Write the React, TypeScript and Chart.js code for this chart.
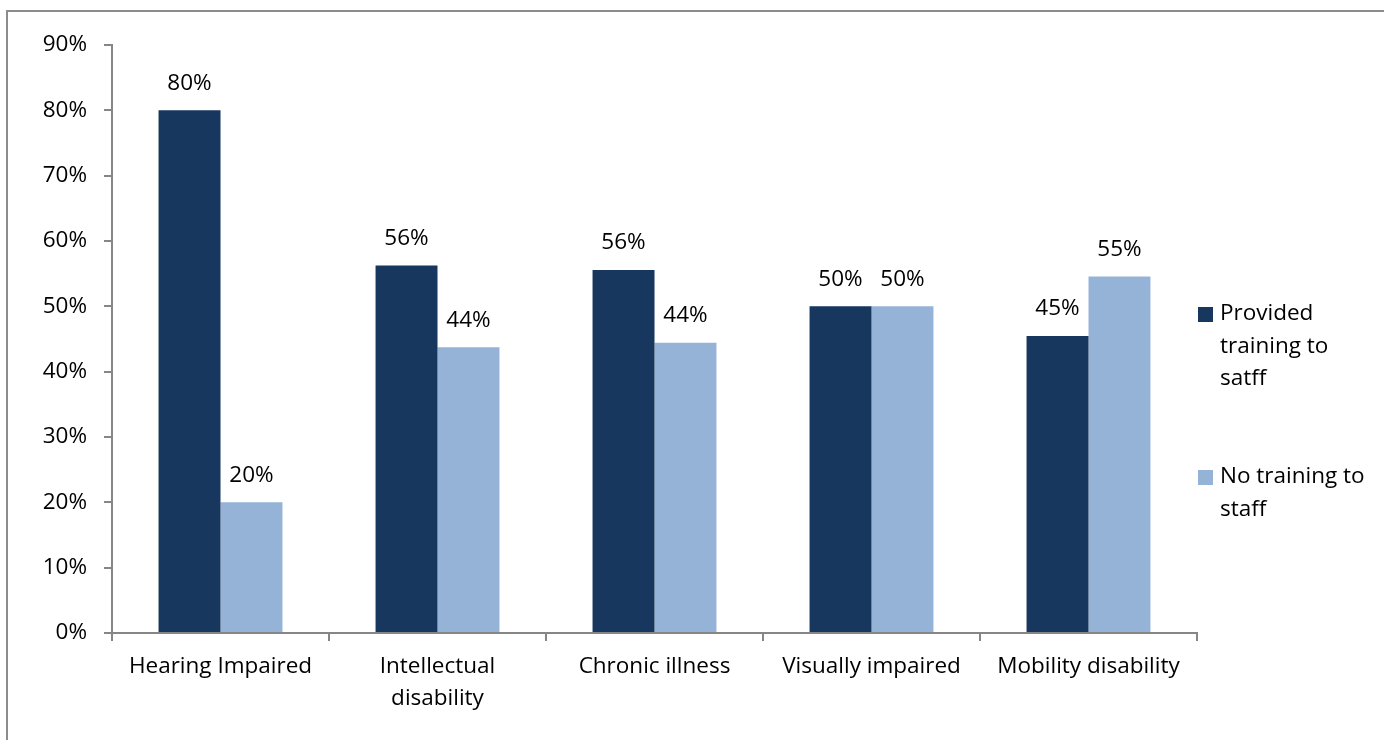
import React, { useEffect, useRef } from "react";
import { Chart, registerables } from "chart.js";
Chart.register(...registerables);

const categories: (string | string[])[] = [
  "Hearing Impaired",
  ["Intellectual", "disability"],
  "Chronic illness",
  "Visually impaired",
  "Mobility disability",
];
const providedTraining = [0.8, 0.5625, 0.5556, 0.5, 0.4545];
const noTraining = [0.2, 0.4375, 0.4444, 0.5, 0.5455];
const seriesNames = ["Provided training to satff", "No training to staff"];
const legendLines = [["Provided", "training to", "satff"], ["No training to", "staff"]];
const yTicks = [0, 0.1, 0.2, 0.3, 0.4, 0.5, 0.6, 0.7, 0.8, 0.9];

const DARK = "#17375E";
const LIGHT = "#95B3D7";
const AXIS = "#868686";
const FONT = "'Open Sans', 'Noto Sans', sans-serif";
const FS = 22.5;

export default function App() {
  const ref = useRef<HTMLCanvasElement>(null);
  useEffect(() => {
    const canvas = ref.current!;
    const colors = [DARK, LIGHT];
    const framePlugin = {
      id: "frame",
      beforeDraw(chart: any) {
        const ctx = chart.ctx;
        ctx.save();
        ctx.fillStyle = "#ffffff";
        ctx.fillRect(0, 0, chart.width, chart.height);
        ctx.strokeStyle = "#8c8c8c";
        ctx.lineWidth = 2;
        ctx.strokeRect(7, 11, chart.width + 20, chart.height + 20);
        ctx.restore();
      },
    };
    const labelPlugin = {
      id: "valueLabels",
      afterDatasetsDraw(chart: any) {
        const ctx = chart.ctx;
        ctx.save();
        ctx.font = `${FS}px ${FONT}`;
        ctx.fillStyle = "#000";
        ctx.textAlign = "center";
        ctx.textBaseline = "middle";
        chart.data.datasets.forEach((ds: any, i: number) => {
          const meta = chart.getDatasetMeta(i);
          meta.data.forEach((bar: any, j: number) => {
            const v = ds.data[j];
            ctx.fillText(Math.round(v * 100) + "%", bar.x, bar.y - 27);
          });
        });
        ctx.restore();
      },
    };
    const legendPlugin = {
      id: "customLegend",
      afterDraw(chart: any) {
        const ctx = chart.ctx;
        ctx.save();
        ctx.font = `${FS}px ${FONT}`;
        ctx.textAlign = "left";
        ctx.textBaseline = "middle";
        const starts = [314, 477];
        legendLines.forEach((lines, i) => {
          ctx.fillStyle = colors[i];
          ctx.fillRect(1198, starts[i] - 7, 15, 15);
          ctx.fillStyle = "#000";
          lines.forEach((t, k) => {
            ctx.fillText(t, 1220, starts[i] + k * 32.5);
          });
        });
        ctx.restore();
      },
    };
    const chart = new Chart(canvas, {
      type: "bar",
      data: {
        labels: categories,
        datasets: [
          { label: seriesNames[0], data: providedTraining, backgroundColor: DARK },
          { label: seriesNames[1], data: noTraining, backgroundColor: LIGHT },
        ],
      },
      options: {
        responsive: false,
        animation: false,
        layout: { padding: { left: 36, top: 45, right: 187, bottom: 0 } },
        plugins: { legend: { display: false }, tooltip: { enabled: false } },
        datasets: { bar: { categoryPercentage: 0.571, barPercentage: 1 } },
        scales: {
          x: {
            grid: { display: true, drawOnChartArea: false, drawTicks: true, tickLength: 8, color: AXIS, lineWidth: 2, offset: true },
            border: { color: AXIS, width: 2 },
            ticks: { color: "#000", font: { family: FONT, size: FS, lineHeight: 1.42 }, padding: 10, maxRotation: 0, autoSkip: false },
            afterFit(scale: any) { scale.height = 107; },
          },
          y: {
            min: 0,
            max: 0.9,
            afterBuildTicks(scale: any) { scale.ticks = yTicks.map((v) => ({ value: v })); },
            grid: { display: true, drawOnChartArea: false, drawTicks: true, tickLength: 8, color: AXIS, lineWidth: 2 },
            border: { color: AXIS, width: 2 },
            ticks: {
              color: "#000",
              font: { family: FONT, size: FS },
              padding: 17,
              callback: (v: any) => Math.round(Number(v) * 100) + "%",
            },
            afterFit(scale: any) { scale.width = 76; },
          },
        },
      },
      plugins: [framePlugin, labelPlugin, legendPlugin],
    });
    return () => chart.destroy();
  }, []);
  return (
    <div style={{ position: "fixed", left: 0, top: 0, width: 1384, height: 740 }}>
      <canvas ref={ref} width={1384} height={740} style={{ display: "block" }} />
    </div>
  );
}
